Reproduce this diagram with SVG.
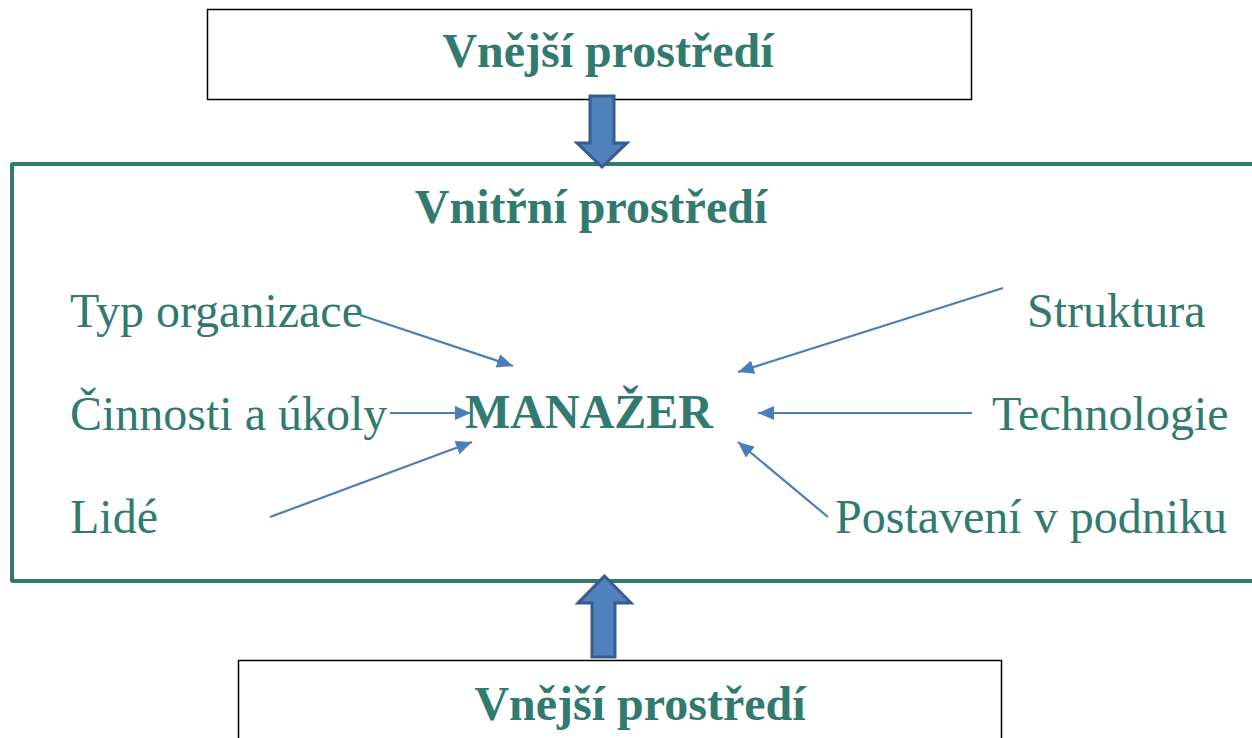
<svg xmlns="http://www.w3.org/2000/svg" width="1252" height="738" viewBox="0 0 1252 738">
<style>
.t{font-family:"Liberation Serif","Times New Roman",serif;font-size:48px;fill:#317A6F}
.b{font-weight:bold}
.box{fill:#fff;stroke:#000;stroke-width:1.5}
.blk{fill:#4F81BD;stroke:#385D8A;stroke-width:3;stroke-linejoin:miter}
.con{stroke:#4A7EBB;stroke-width:2.2;fill:none;marker-end:url(#ah)}
</style>
<defs>
<marker id="ah" markerUnits="userSpaceOnUse" markerWidth="18" markerHeight="16" refX="16" refY="7" orient="auto">
<path d="M0,0 L16,7 L0,14 Z" fill="#4A7EBB"/>
</marker>
</defs>
<rect width="1252" height="738" fill="#fff"/>
<g id="vnejsi-top">
<rect class="box" x="207.5" y="9.5" width="764" height="90"/>
<text class="t b" x="608" y="67" text-anchor="middle">Vnější prostředí</text>
</g>
<g id="vnitrni">
<rect x="12" y="164" width="1270" height="417" fill="none" stroke="#31796E" stroke-width="4" rx="1"/>
<text class="t b" x="591" y="223" text-anchor="middle">Vnitřní prostředí</text>
</g>
<g id="vnejsi-bottom">
<rect class="box" x="238.5" y="660.5" width="763" height="100"/>
<text class="t b" x="640" y="720" text-anchor="middle">Vnější prostředí</text>
</g>
<g id="block-arrows">
<polygon class="blk" points="590,96 614,96 614,143 627,143 602,167 577,143 590,143"/>
<polygon class="blk" points="604.5,576 631,603 615,603 615,657 592,657 592,603 578,603"/>
</g>
<g id="manazer"><text class="t b" x="465" y="428">MANAŽER</text></g>
<g id="typ"><text class="t" x="70" y="327">Typ organizace</text></g>
<g id="cinnosti"><text class="t" x="70" y="430">Činnosti a úkoly</text></g>
<g id="lide"><text class="t" x="70" y="533">Lidé</text></g>
<g id="struktura"><text class="t" x="1027" y="327">Struktura</text></g>
<g id="technologie"><text class="t" x="992" y="430">Technologie</text></g>
<g id="postaveni"><text class="t" x="835" y="533">Postavení v podniku</text></g>
<g id="connectors">
<line class="con" x1="360" y1="315" x2="513" y2="366"/>
<line class="con" x1="390" y1="413" x2="471" y2="413"/>
<line class="con" x1="270" y1="517" x2="472" y2="442"/>
<line class="con" x1="1003" y1="288" x2="738" y2="372"/>
<line class="con" x1="972" y1="413" x2="758" y2="413"/>
<line class="con" x1="828" y1="517" x2="738" y2="442"/>
</g>
</svg>
